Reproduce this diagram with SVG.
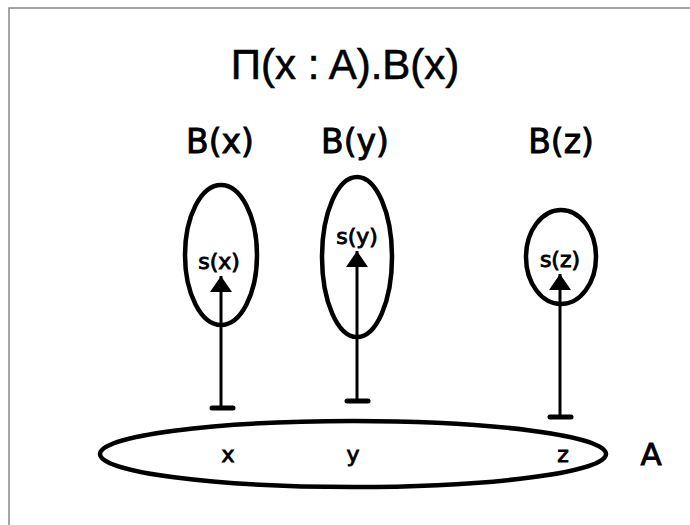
<svg xmlns="http://www.w3.org/2000/svg" width="690" height="525" viewBox="0 0 690 525">
<defs>
<style>
.set{fill:none;stroke:#000;stroke-width:4.5}
.hand{font-family:"DejaVu Sans","Liberation Sans",sans-serif;fill:#000;stroke:#000;stroke-width:0.9;text-anchor:middle}
.conn{stroke:#000;stroke-width:3;fill:none}
.tbar{stroke:#000;stroke-width:5;stroke-linecap:round}
</style>
<marker id="ah" viewBox="0 0 16 22" refX="16" refY="11" markerWidth="16" markerHeight="22" orient="auto" markerUnits="userSpaceOnUse">
<path d="M0,0 L16,11 L0,22 z" fill="#000"/>
</marker>
</defs>
<rect width="690" height="525" fill="#fff"/>
<rect x="9" y="8" width="700" height="540" fill="none" stroke="#888" stroke-width="1.5"/>
<text x="345" y="79" font-family="Liberation Sans, Arial, sans-serif" font-size="42" text-anchor="middle" stroke="#000" stroke-width="0.6">Π(x : A).B(x)</text>
<g id="Bx">
<ellipse class="set" cx="221" cy="255" rx="36" ry="70"/>
<text class="hand" x="220" y="153" font-size="33">B(x)</text>
<text class="hand" x="219" y="269" font-size="22">s(x)</text>
</g>
<g id="By">
<ellipse class="set" cx="357" cy="257" rx="35" ry="80"/>
<text class="hand" x="355" y="153" font-size="33">B(y)</text>
<text class="hand" x="357" y="244" font-size="22">s(y)</text>
</g>
<g id="Bz">
<ellipse class="set" cx="561" cy="257" rx="35" ry="47"/>
<text class="hand" x="561" y="153" font-size="33">B(z)</text>
<text class="hand" x="560" y="267" font-size="22">s(z)</text>
</g>
<g id="A">
<ellipse class="set" cx="353" cy="454" rx="253" ry="33"/>
<text class="hand" x="228" y="462" font-size="22">x</text>
<text class="hand" x="353" y="462" font-size="22">y</text>
<text class="hand" x="563" y="462" font-size="22">z</text>
<text class="hand" x="651" y="465" font-size="31">A</text>
</g>
<g id="connectors">
<line class="conn" x1="221" y1="408" x2="221" y2="276" marker-end="url(#ah)"/>
<line class="tbar" x1="212" y1="408" x2="233" y2="408"/>
<line class="conn" x1="357" y1="401" x2="357" y2="251" marker-end="url(#ah)"/>
<line class="tbar" x1="347" y1="401" x2="368" y2="401"/>
<line class="conn" x1="560" y1="417" x2="560" y2="274" marker-end="url(#ah)"/>
<line class="tbar" x1="550" y1="417" x2="571" y2="417"/>
</g>
</svg>
